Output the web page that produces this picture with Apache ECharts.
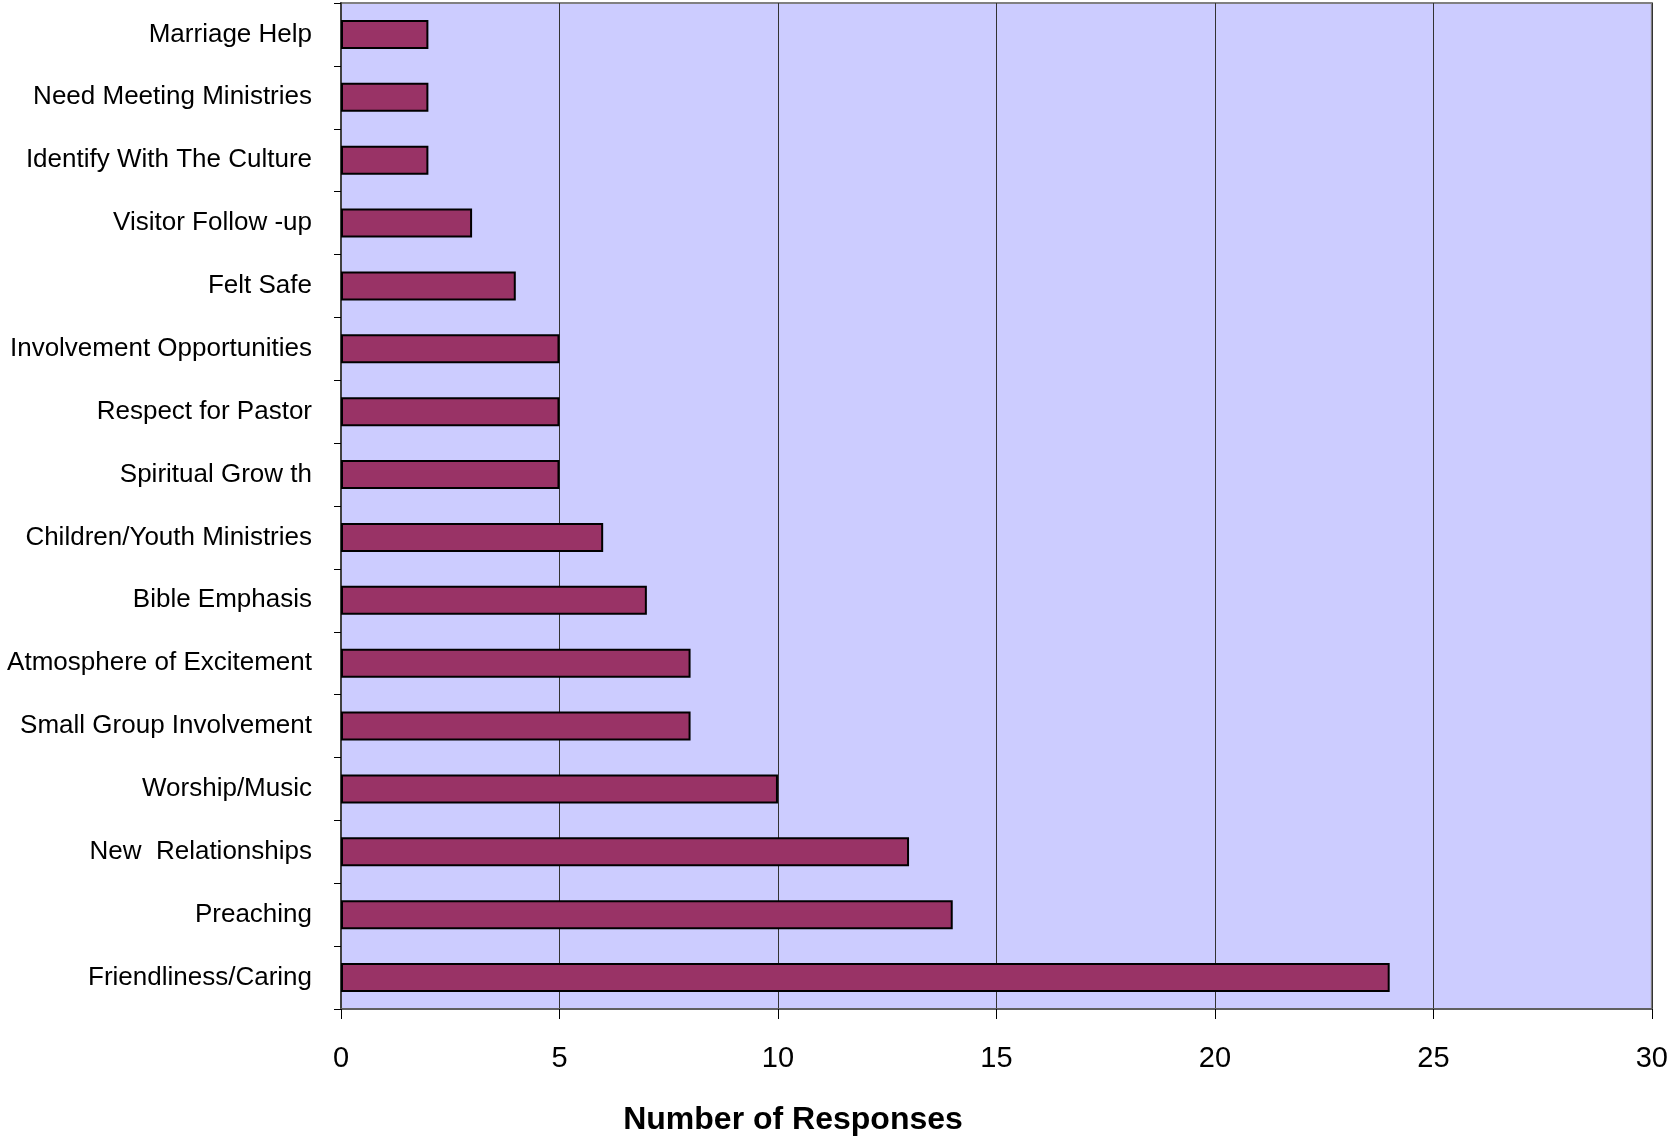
<!DOCTYPE html>
<html>
<head>
<meta charset="utf-8">
<script src="https://cdn.jsdelivr.net/npm/echarts@6/dist/echarts.min.js"></script>
<style>html,body{margin:0;padding:0;background:#fff}#c{width:1671px;height:1136px}</style>
</head>
<body>
<div id="c"></div>
<script>
const categories = [
  "Marriage Help",
  "Need Meeting Ministries",
  "Identify With The Culture",
  "Visitor Follow -up",
  "Felt Safe",
  "Involvement Opportunities",
  "Respect for Pastor",
  "Spiritual Grow th",
  "Children/Youth Ministries",
  "Bible Emphasis",
  "Atmosphere of Excitement",
  "Small Group Involvement",
  "Worship/Music",
  "New  Relationships",
  "Preaching",
  "Friendliness/Caring"
];
const responses = [2, 2, 2, 3, 4, 5, 5, 5, 6, 7, 8, 8, 10, 13, 14, 24];
const xMin = 0, xMax = 30, xStep = 5;
const xTitle = "Number of Responses";

const chart = echarts.init(document.getElementById('c'), null, {renderer: 'canvas'});
chart.setOption({
  animation: false,
  backgroundColor: '#ffffff',
  title: {
    text: xTitle,
    left: 788,
    top: 1099,
    textAlign: 'center',
    textStyle: {fontFamily: 'Liberation Sans', fontWeight: 'bold', fontSize: 32, color: '#000'}
  },
  grid: {
    left: 341, right: 17, top: 3, bottom: 127,
    show: true, backgroundColor: '#CCCCFF', borderColor: '#808080', borderWidth: 2
  },
  xAxis: {
    type: 'value', min: xMin, max: xMax, interval: xStep,
    axisLine: {show: true, lineStyle: {color: '#606060', width: 2}},
    axisTick: {show: true, length: 10, lineStyle: {color: '#000', width: 1}},
    axisLabel: {fontFamily: 'Liberation Sans', fontSize: 29, color: '#000', margin: 35},
    splitLine: {show: true, lineStyle: {color: '#333', width: 1}}
  },
  yAxis: {
    type: 'category', data: categories, inverse: true,
    axisLine: {show: true, lineStyle: {color: '#404040', width: 2}},
    axisTick: {show: true, length: 7, lineStyle: {color: '#000', width: 1}},
    axisLabel: {fontFamily: 'Liberation Sans', fontSize: 26, color: '#000', margin: 29},
    splitLine: {show: false}
  },
  series: [{
    type: 'bar', data: responses, barWidth: '46%',
    itemStyle: {color: '#993366', borderColor: '#000', borderWidth: 2}
  }]
});
</script>
</body>
</html>
